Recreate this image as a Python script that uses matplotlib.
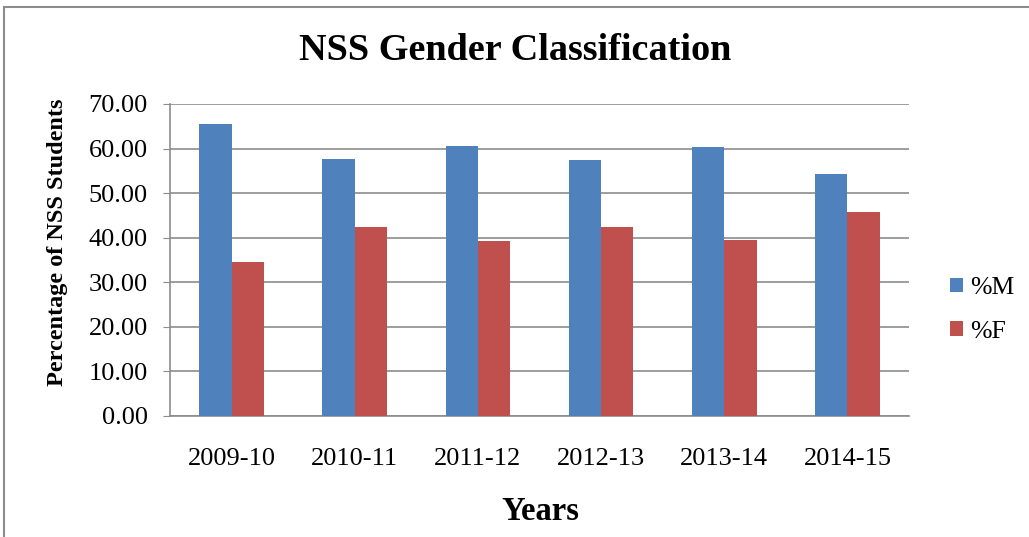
import matplotlib
matplotlib.use("Agg")
import matplotlib.pyplot as plt
import numpy as np
from matplotlib.patches import Rectangle

categories = ["2009-10", "2010-11", "2011-12", "2012-13", "2013-14", "2014-15"]
male = [65.6, 57.7, 60.6, 57.4, 60.4, 54.3]
female = [34.5, 42.3, 39.3, 42.3, 39.5, 45.8]
series_names = ["%M", "%F"]
yticks = [0, 10, 20, 30, 40, 50, 60, 70]

plt.rcParams['font.family'] = ['Liberation Serif', 'DejaVu Serif']

W, H = 1029, 537
fig = plt.figure(figsize=(W / 100, H / 100), dpi=100)
fig.patch.set_facecolor("white")

# outer chart border (extends beyond right/bottom)
fig.patches.append(Rectangle((4 / W, -0.1), 1.2, 1 - 7 / H + 0.1, transform=fig.transFigure,
                             fill=False, edgecolor="#8c8c8c", linewidth=1.5))

ax = fig.add_axes([170 / W, 1 - 416 / H, (909 - 170) / W, (416 - 104) / H])
x = np.arange(len(categories))
bw = 0.263
ax.bar(x - bw / 2, male, bw, color="#4F81BD", label=series_names[0], zorder=3)
ax.bar(x + bw / 2, female, bw, color="#C0504D", label=series_names[1], zorder=3)

ax.set_xlim(-0.5, len(categories) - 0.5)
ax.set_ylim(0, 70)
ax.set_yticks(yticks)
ax.set_yticklabels([f"{v:.2f}" for v in yticks], fontsize=19)
ax.set_xticks(x)
ax.set_xticklabels(categories, fontsize=19)
ax.tick_params(axis="x", length=0, pad=23)
ax.tick_params(axis="y", length=5, color="#8c8c8c", direction="out", pad=11)
ax.yaxis.grid(True, color="#8c8c8c", linewidth=1.2, zorder=0)
for s in ["top", "right"]:
    ax.spines[s].set_visible(False)
ax.spines["left"].set_color("#8c8c8c")
ax.spines["bottom"].set_color("#8c8c8c")
ax.spines["left"].set_linewidth(1.2)
ax.spines["bottom"].set_linewidth(1.2)

fig.text(515 / W, 1 - 50 / H, "NSS Gender Classification", ha="center", va="center",
         fontsize=27.5, fontweight="bold")
fig.text(58 / W, 1 - 242 / H, "Percentage of NSS Students", ha="center", va="center",
         rotation=90, fontsize=17.5, fontweight="bold")
fig.text(540 / W, 1 - 512 / H, "Years", ha="center", va="center",
         fontsize=23.5, fontweight="bold")

ax.legend(loc="center left", bbox_to_anchor=(950 / W, 1 - 310 / H), bbox_transform=fig.transFigure,
          frameon=False, fontsize=18.5, handlelength=0.5, handleheight=0.5,
          handletextpad=0.3, labelspacing=0.85, borderpad=0, borderaxespad=0)

fig.savefig("out.png", dpi=100)
